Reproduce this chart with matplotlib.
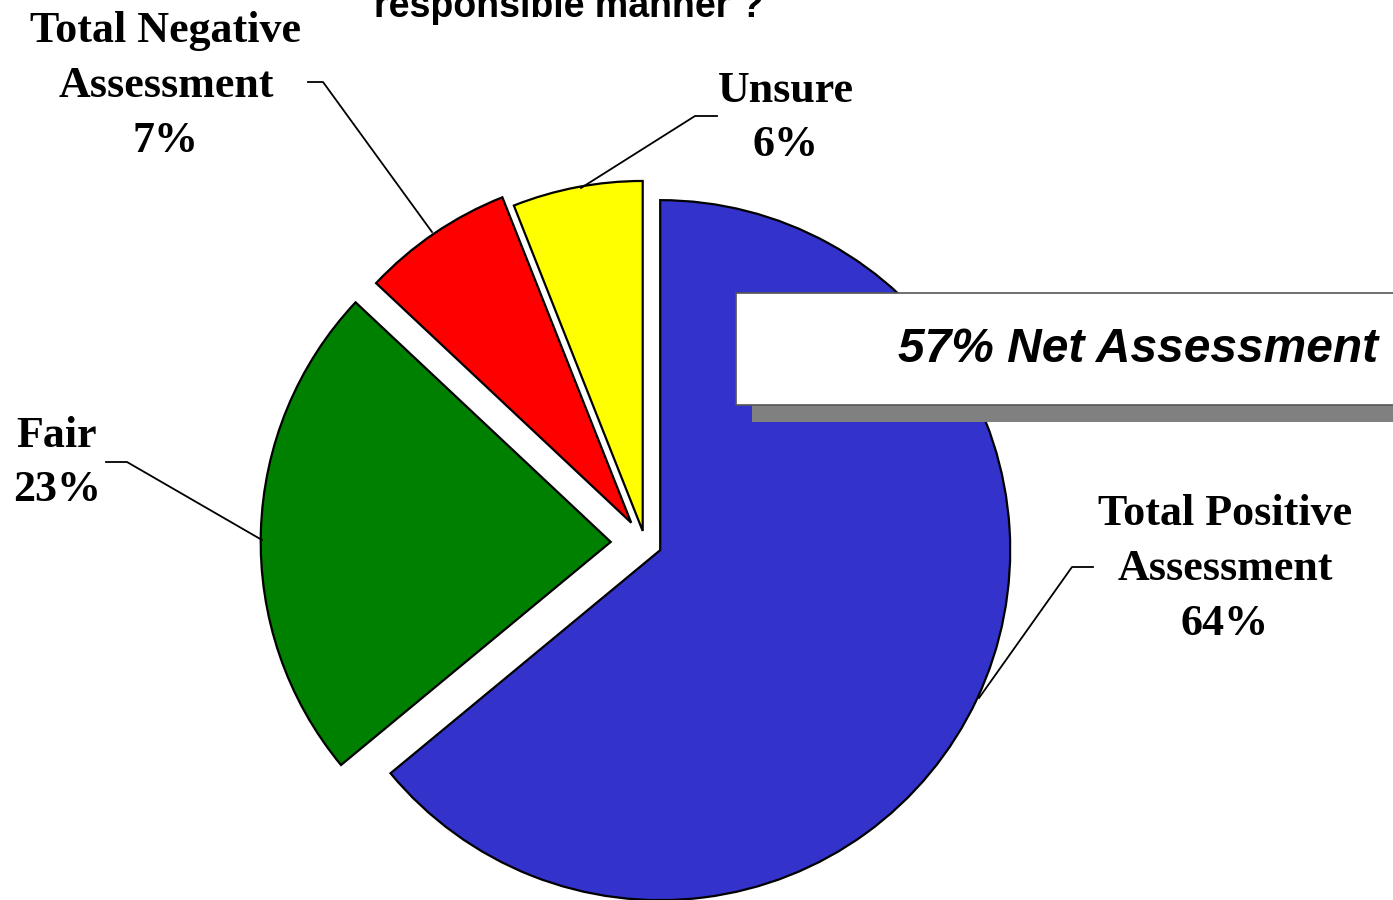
import matplotlib
matplotlib.use("Agg")
import matplotlib.pyplot as plt
from matplotlib.patches import Rectangle

# ---- data ----
categories = ["Total Positive\nAssessment", "Fair", "Total Negative\nAssessment", "Unsure"]
values = [64, 23, 7, 6]
colors = ["#3333CC", "#008000", "#FF0000", "#FFFF00"]
explode = [0.048, 0.098, 0.07, 0.035]
net_label = "57% Net Assessment"
title_text = "responsible manner ?"

W, H = 1393, 900
CX, CY, R = 645, 543, 350  # pie centre / radius in pixels


def P(px, py):
    return ((px - CX) / R, (CY - py) / R)


fig = plt.figure(figsize=(W / 100, H / 100), dpi=100)
ax = fig.add_axes([0, 0, 1, 1])
ax.pie(values, colors=colors, startangle=90, counterclock=False, radius=1,
       center=(0, 0), explode=explode,
       wedgeprops=dict(edgecolor="black", linewidth=1.6))
x0, y0 = P(0, H)
x1, y1 = P(W, 0)
ax.set_xlim(x0, x1)
ax.set_ylim(y0, y1)
ax.set_aspect("auto")
ax.axis("off")

serif = dict(family="Liberation Serif", fontweight="bold", fontsize=31.7,
             ha="center", va="center", linespacing=1.47)

# labels: (text, centre px, leader polyline px)
labels = [
    (f"{categories[2]}\n{values[2]}%", (166, 86), [(308, 82), (323, 82), (432, 232)]),
    (f"{categories[3]}\n{values[3]}%", (786, 118), [(717, 116), (695, 116), (581, 188)]),
    (f"{categories[1]}\n{values[1]}%", (57, 463), [(106, 462), (127, 462), (262, 540)]),
    (f"{categories[0]}\n{values[0]}%", (1225, 569), [(1093, 567), (1072, 567), (979, 698)]),
]
for txt, (tx, ty), pts in labels:
    ax.text(*P(tx, ty), txt, **serif)
    xs = [P(a, b)[0] for a, b in pts]
    ys = [P(a, b)[1] for a, b in pts]
    ax.plot(xs, ys, color="black", linewidth=1.3, zorder=5)

# net assessment box with shadow
bx0, by0, bx1, by1 = 736, 293, W + 5, 405
sx, sy = 16, 17
sp = P(bx0 + sx, by1 + sy)
ax.add_patch(Rectangle(sp, (bx1 - bx0) / R, (by1 - by0) / R,
                       facecolor="#808080", edgecolor="none", zorder=6))
bp = P(bx0, by1)
ax.add_patch(Rectangle(bp, (bx1 - bx0) / R, (by1 - by0) / R,
                       facecolor="white", edgecolor="#555555", linewidth=1.2, zorder=7))
ax.text(*P(1378, 350), net_label, family="Liberation Sans", fontweight="bold",
        fontstyle="italic", fontsize=34.5, ha="right", va="center", zorder=8)

# title (cut off at the top, as in the reference)
ax.text(*P(569, 17), title_text, family="Liberation Sans", fontweight="bold",
        fontsize=27, ha="center", va="baseline")

fig.savefig("out.png", dpi=100)
